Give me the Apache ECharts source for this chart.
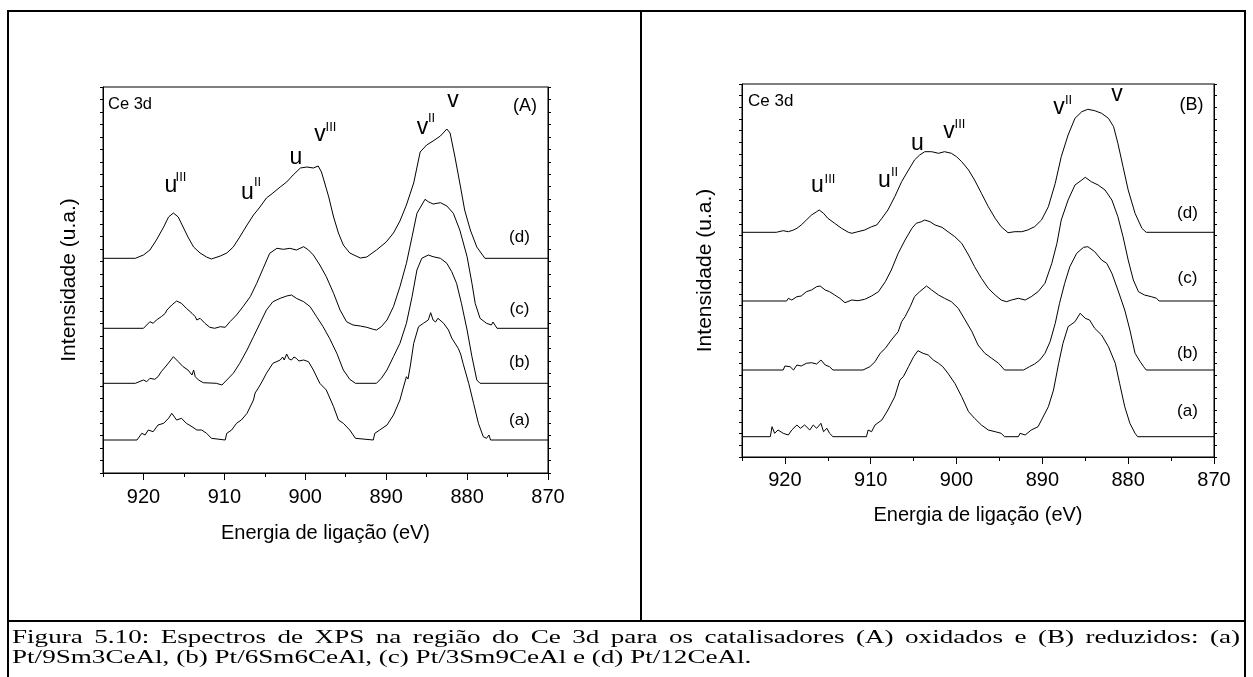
<!DOCTYPE html>
<html><head><meta charset="utf-8">
<script src="https://cdn.jsdelivr.net/npm/echarts/dist/echarts.min.js"></script>
<style>
html,body{margin:0;padding:0;background:#fff;}
#wrap{position:relative;width:1253px;height:677px;overflow:hidden;background:#fff;}
#chart{position:absolute;left:0;top:0;width:1253px;height:677px;}
.cap{position:absolute;left:12px;font-family:"Liberation Serif","Times New Roman",serif;font-size:19.5px;line-height:20px;color:#000;white-space:nowrap;transform-origin:0 0;}
</style></head><body>
<div id="wrap"><div id="chart"></div>
<div class="cap" id="cap1">Figura 5.10: Espectros de XPS na região do Ce 3d para os catalisadores (A) oxidados e (B) reduzidos: (a)</div>
<div class="cap" id="cap2">Pt/9Sm3CeAl, (b) Pt/6Sm6CeAl, (c) Pt/3Sm9CeAl e (d) Pt/12CeAl.</div>
</div>
<script>
// ---------- data: [binding energy (eV), intensity (a.u., offset stacked)] ----------
// Panel A (oxidized)
const specA_d = [[925,214.7],[921.0,214.7],[920.0,218],[919.2,223],[918.4,233],[917.5,246],[916.9,256],[916.3,260],[915.7,256],[915.1,246],[914.5,236],[913.8,226],[913.0,220],[912.2,216],[911.6,214],[910.5,217],[909.7,220],[908.9,226],[908.1,236],[907.2,248],[906.4,258],[905.6,266],[904.8,275],[904.0,280],[903.1,286],[902.3,291],[901.5,298],[900.6,305],[899.8,306],[899.0,305],[898.4,307],[898.0,301],[897.6,290],[897.1,276],[896.5,256],[895.9,240],[895.3,228],[894.5,220],[893.2,215],[892.4,216],[891.2,223],[890.0,231],[889.1,240],[888.3,252],[887.5,268],[886.6,290],[885.8,321],[885.0,328],[884.2,332],[883.3,337],[882.5,344],[882.1,340],[881.5,316],[880.9,290],[880.3,263],[879.6,243],[878.8,226],[877.8,214.7],[870,214.7]];
const specA_c = [[925,144.7],[920.0,144.7],[919.2,151.3],[918.8,149.7],[918.4,153],[917.8,156.3],[917.3,159.7],[917.1,163],[916.5,168],[915.9,172],[915.3,169.7],[914.7,164.7],[914.0,159.7],[913.6,156.3],[913.4,153],[913.0,154.7],[912.4,149.7],[911.8,145.7],[911.2,144.7],[910.5,146.3],[909.9,145.7],[909.3,151.3],[908.5,158],[907.7,166.3],[906.8,176.3],[906.0,189.7],[905.2,204.7],[904.4,219.7],[903.5,224.7],[902.7,223.7],[901.9,224.7],[901.1,223],[900.2,226.3],[899.6,223],[899.0,218],[898.2,208],[897.4,196.3],[896.5,179.7],[895.7,163],[894.9,151.3],[894.1,148],[893.2,147],[892.4,145.7],[891.6,143.7],[891.2,143],[890.6,146.3],[889.9,153],[889.1,166.3],[888.3,186.3],[887.5,209.7],[886.8,236.3],[886.2,259.7],[885.6,268],[885.2,273.7],[884.8,271.3],[884.2,269],[883.3,270.3],[882.5,267],[881.7,259.7],[880.9,243],[880.0,216.3],[879.4,189.7],[879.0,169.7],[878.4,154.7],[877.6,149.7],[877.0,148],[876.8,151],[876.3,144.7],[870,144.7]];
const specA_b = [[925,89.7],[921.0,89.7],[920.8,91.3],[920.0,93],[919.6,91.3],[919.2,94.7],[918.6,93.7],[918.2,96.3],[917.8,101.3],[917.1,108],[916.3,116.3],[915.7,111.3],[915.1,106.3],[914.5,103],[914.0,98],[913.8,103],[913.6,96.3],[913.2,93],[912.6,90.3],[911.0,89.7],[910.3,88],[909.7,93],[908.9,99.7],[908.1,109.7],[907.2,123],[906.4,136.3],[905.6,149.7],[904.8,163],[904.0,171.3],[903.1,174.7],[902.3,177],[901.7,178],[901.1,174.7],[900.2,171.3],[899.4,166.3],[898.6,156.3],[897.8,146.3],[897.0,134.7],[896.1,119.7],[895.3,103],[894.5,93.7],[893.8,89.7],[891.2,89.7],[890.6,94.7],[889.9,103],[889.1,116.3],[888.3,129.7],[887.5,149.7],[886.8,176.3],[886.2,203],[885.6,214.7],[884.8,218],[884.2,216.3],[883.3,214.7],[882.5,209.7],[881.9,201.3],[881.3,189.7],[880.7,169.7],[880.0,143],[879.4,116.3],[878.8,93],[878.4,89.7],[870,89.7]];
const specA_a = [[925,33],[920.8,33],[920.6,34.7],[920.2,39.7],[919.8,38],[919.4,43],[918.8,41.3],[918.2,48],[917.5,49.7],[916.9,54.7],[916.5,59.7],[915.9,53],[915.3,54.7],[914.7,49.7],[914.0,46.3],[913.4,43],[912.8,43],[912.2,39.7],[911.6,34.7],[911.4,33],[909.9,33],[909.7,39.7],[909.1,43],[908.5,49.7],[907.9,53],[907.2,59.7],[906.4,73],[906.2,80],[906.0,78],[905.8,85],[905.6,84],[905.3,92],[905.1,91],[904.8,99.7],[904.0,109.7],[903.1,113],[902.8,116],[902.6,113],[902.3,119],[902.0,114],[901.7,113],[901.4,116],[901.1,114.7],[900.8,112],[900.2,113],[899.6,111.3],[899.0,103],[898.2,89.7],[897.4,83],[896.5,66.3],[895.9,53],[895.3,49.7],[894.5,43],[893.8,34.7],[893.6,33],[891.6,33],[891.4,39.7],[890.8,43],[889.9,48],[889.1,58],[888.3,73],[888.0,82],[887.8,80],[887.5,96.3],[887.3,94],[887.0,108],[886.8,107],[886.6,129.7],[886.0,146.3],[885.4,149.7],[884.8,153],[884.5,160.3],[884.2,153],[883.9,151],[883.6,154.7],[882.9,149.7],[882.3,143],[881.9,135],[881.7,134.7],[881.1,124.7],[880.8,119],[880.5,109.7],[879.8,89.7],[879.2,69.7],[878.6,49.7],[878.0,36.3],[877.6,34.7],[877.3,38],[877.1,33],[870,33]];
// Panel B (reduced)
const specB_d = [[925,224.7],[921.0,224.7],[920.8,225.3],[920.2,226.3],[919.6,225.3],[919.0,227],[918.6,228.7],[918.1,232],[917.5,237],[916.9,242],[916.3,245.3],[916.0,247],[915.5,243.7],[915.0,238.7],[914.2,233.7],[913.4,228.7],[912.6,224.7],[912.2,223.7],[911.5,225.3],[910.7,227],[909.9,230.3],[909.3,232],[908.7,238.7],[908.0,247],[907.2,260.3],[906.4,275.3],[905.6,287],[904.9,297],[904.3,302],[903.7,305.3],[902.9,305.3],[902.1,303.7],[901.4,305.3],[900.6,303.7],[900.0,300.3],[899.4,295.3],[898.6,287],[897.9,277],[897.1,263.7],[896.3,250.3],[895.5,238.7],[894.8,230.3],[894.0,224.3],[893.2,225.3],[892.4,225.3],[891.7,227],[890.9,230.3],[890.1,237],[889.3,250.3],[888.5,273.7],[887.8,300.3],[887.0,322],[886.2,338.7],[885.4,345.3],[884.7,347.7],[883.9,346.3],[883.1,343.7],[882.3,338.7],[881.7,330.3],[881.2,313.7],[880.6,290.3],[880.0,267],[879.2,243.7],[878.4,228.7],[877.9,224.7],[870,224.7]];
const specB_c = [[925,156],[919.8,156],[919.6,158.7],[919.2,157],[918.6,160.3],[918.1,161],[917.5,165.3],[916.9,167],[916.3,170.3],[915.9,171],[915.3,167],[914.8,165.3],[914.2,162],[913.6,158.7],[913.0,154.3],[912.2,157],[911.5,156.3],[910.7,157.7],[909.9,161],[909.1,165.3],[908.3,175.3],[907.6,187],[906.8,203.7],[906.0,217],[905.2,228.7],[904.7,233.7],[904.1,235.3],[903.7,237],[903.1,235.3],[902.5,232],[901.7,229.7],[901.0,225.3],[900.2,220.3],[899.4,213.7],[898.6,202],[897.9,190.3],[897.1,178.7],[896.3,168.7],[895.5,162],[894.8,157],[894.2,155.3],[893.6,157],[892.8,158.7],[892.0,157],[891.3,160.3],[890.5,165.3],[889.7,173.7],[888.9,193.7],[888.3,213.7],[887.8,237],[887.0,257],[886.2,272],[885.4,277],[885.0,279.7],[884.3,275.3],[883.5,272],[882.7,267],[881.9,257],[881.2,240.3],[880.6,220.3],[880.0,197],[879.4,177],[878.8,165.3],[878.1,162],[877.3,160.3],[876.7,158.7],[876.4,156],[870,156]];
const specB_b = [[925,87],[920.2,87],[920.0,91],[919.4,90.3],[919.0,87],[918.6,92],[918.1,91],[917.5,93.7],[916.9,94.3],[916.3,93],[915.8,97],[915.3,92],[914.8,90.3],[914.4,87],[910.9,87],[910.7,88.7],[910.1,90.3],[909.5,95.3],[908.9,103.7],[908.3,108.7],[907.6,117],[906.8,125.3],[906.4,135.3],[906.0,140.3],[905.4,150.3],[904.9,160.3],[904.3,165.3],[903.5,171],[902.9,167],[902.1,162],[901.4,158.7],[900.6,155.3],[899.8,148.7],[899.0,137],[898.2,125.3],[897.5,112],[896.7,103.7],[895.9,98.7],[895.1,93.7],[894.4,87],[892.2,87],[892.0,85.3],[891.5,90.3],[890.9,93],[890.3,97],[889.7,103.7],[889.1,115.3],[888.5,133.7],[888.0,153.7],[887.4,173.7],[886.8,190.3],[886.0,203.7],[885.2,209.7],[884.7,210.3],[883.9,205.3],[883.1,197],[882.5,193.7],[881.9,183.7],[881.2,167],[880.4,147],[879.8,127],[879.2,103.7],[878.6,95.3],[878.2,90.3],[877.9,87],[870,87]];
const specB_a = [[925,20.3],[921.7,20.3],[921.5,30.3],[921.2,23.7],[920.8,27],[920.2,23.7],[919.6,22],[919.2,27],[918.6,32],[918.2,28.7],[917.7,32],[917.1,27],[916.7,32],[916.3,28.7],[915.8,33.7],[915.5,25.3],[915.1,28.7],[914.8,23.7],[914.4,20.3],[910.5,20.3],[910.3,27],[909.9,25.3],[909.5,32],[908.7,37],[908.0,47],[907.2,60.3],[906.6,77],[906.2,80.3],[905.6,90.3],[905.0,100.3],[904.5,106.3],[903.9,103.7],[903.3,102],[902.7,97],[902.1,93.7],[901.6,90.3],[901.0,83.7],[900.2,73.7],[899.4,60.3],[898.6,45.3],[897.9,38.7],[897.1,32],[896.3,27],[895.5,25.3],[894.8,23.7],[894.4,20.3],[892.8,20.3],[892.6,23.7],[892.0,22],[891.3,27],[890.5,30.3],[890.1,37],[889.3,50.3],[888.7,67],[888.1,93.7],[887.6,113.7],[887.0,130.3],[886.2,135.3],[885.6,143.7],[885.0,138.7],[884.5,137],[883.9,128.7],[883.1,122],[882.3,110.3],[881.5,93.7],[881.0,73.7],[880.4,50.3],[879.8,33.7],[879.2,23.7],[878.9,20.3],[870,20.3]];

const energyRange = [870, 925];
const sampleLabels = ['(a)', '(b)', '(c)', '(d)'];
const panelLabels = ['(A)', '(B)'];
const xTitle = 'Energia de ligação (eV)';
const yTitle = 'Intensidade (u.a.)';

// ---------- chart ----------
const SANS = '"Liberation Sans", Arial, Helvetica, sans-serif';
const chart = echarts.init(document.getElementById('chart'), null, {renderer: 'canvas'});

function xAxes(gi, gap, margin, fs) {
  return [{
    gridIndex: gi, type: 'value', position: 'bottom', min: energyRange[0], max: energyRange[1], inverse: true, interval: 10,
    axisLine: {show: true, onZero: false, lineStyle: {color: '#000', width: 1}},
    axisTick: {show: true, inside: false, length: 7, lineStyle: {color: '#000', width: 1}},
    axisLabel: {show: true, color: '#000', fontSize: fs, fontFamily: SANS, margin: margin, showMaxLabel: false},
    splitLine: {show: false},
    name: xTitle, nameLocation: 'middle', nameGap: gap,
    nameTextStyle: {color: '#000', fontSize: fs, fontFamily: SANS}
  }, {
    gridIndex: gi, type: 'value', position: 'bottom', min: energyRange[0], max: energyRange[1], inverse: true, interval: 5,
    axisLine: {show: false, onZero: false},
    axisTick: {show: true, inside: false, length: 4, lineStyle: {color: '#000', width: 1}},
    axisLabel: {show: false}, splitLine: {show: false}
  }];
}
function yAxes(gi, max, step, gap, fs) {
  const common = () => ({
    gridIndex: gi, type: 'value', min: 0, max: max, interval: step,
    axisLine: {show: true, onZero: false, lineStyle: {color: '#000', width: 1}},
    axisTick: {show: true, inside: false, length: 3, lineStyle: {color: '#000', width: 1}},
    axisLabel: {show: false}, splitLine: {show: false}
  });
  return [Object.assign(common(), {position: 'left', name: yTitle, nameLocation: 'middle', nameGap: gap, nameRotate: 90,
            nameTextStyle: {color: '#000', fontSize: fs, fontFamily: SANS}}),
          Object.assign(common(), {position: 'right'})];
}
function spec(data, xi, yi) {
  return {type: 'line', xAxisIndex: xi, yAxisIndex: yi, data: data, showSymbol: false, symbol: 'none',
          lineStyle: {color: '#000', width: 1}, silent: true, animation: false, z: 3};
}
function T(x, y, s, size, align) {
  return {type: 'text', x: x, y: y, silent: true, z: 10,
          style: {text: s, fill: '#000', font: size + 'px ' + SANS, align: align || 'center', verticalAlign: 'middle'}};
}
function L(x1, y1, x2, y2, w) {
  return {type: 'line', silent: true, z: 10, shape: {x1: x1, y1: y1, x2: x2, y2: y2}, style: {stroke: '#000', lineWidth: w}};
}

const peak = 23, sup = 13, cap = 17;
const graphics = [
  // outer frame
  L(7, 11, 1246, 11, 2), L(8, 10, 8, 677, 2), L(1245, 10, 1245, 677, 2),
  L(641, 11, 641, 621, 2), L(7, 621, 1246, 621, 2),
  // panel A texts
  T(108, 104, 'Ce 3d', 16.5, 'left'), T(525, 106, panelLabels[0], 18),
  T(171, 186, 'u', peak), T(181, 177, 'III', sup),
  T(247.5, 193, 'u', peak), T(257.5, 182, 'II', sup),
  T(296, 157.5, 'u', peak),
  T(320, 135, 'v', peak), T(331, 127, 'III', sup),
  T(422.5, 128, 'v', peak), T(431.5, 118, 'II', sup),
  T(453, 101, 'v', peak),
  T(519.5, 237.5, sampleLabels[3], cap), T(519.5, 309.5, sampleLabels[2], cap),
  T(519.5, 362.5, sampleLabels[1], cap), T(519.5, 420.5, sampleLabels[0], cap),
  // panel B texts
  T(748, 101.5, 'Ce 3d', 17, 'left'), T(1191.5, 105, panelLabels[1], 18),
  T(817.5, 186, 'u', peak), T(830, 179, 'III', sup),
  T(884.5, 181, 'u', peak), T(894.5, 172, 'II', sup),
  T(917.5, 143.5, 'u', peak),
  T(949, 132, 'v', peak), T(960, 124, 'III', sup),
  T(1059, 108, 'v', peak), T(1068.5, 100, 'II', sup),
  T(1117, 94.5, 'v', peak),
  T(1187.5, 213.5, sampleLabels[3], cap), T(1187.5, 278.5, sampleLabels[2], cap),
  T(1187.5, 353.5, sampleLabels[1], cap), T(1187.5, 411.5, sampleLabels[0], cap)
];

chart.setOption({
  animation: false,
  backgroundColor: '#fff',
  grid: [
    {left: 103, top: 87, width: 445, height: 386, show: true, borderColor: '#000', borderWidth: 1, backgroundColor: 'transparent', containLabel: false},
    {left: 742, top: 84, width: 472, height: 373, show: true, borderColor: '#000', borderWidth: 1, backgroundColor: 'transparent', containLabel: false}
  ],
  xAxis: [].concat(xAxes(0, 50, 14, 20), xAxes(1, 48, 13, 20)),
  yAxis: [].concat(yAxes(0, 386, 12.45, 23, 21), yAxes(1, 373, 11.66, 26, 21)),
  series: [
    spec(specA_a, 0, 0), spec(specA_b, 0, 0), spec(specA_c, 0, 0), spec(specA_d, 0, 0),
    spec(specB_a, 2, 2), spec(specB_b, 2, 2), spec(specB_c, 2, 2), spec(specB_d, 2, 2)
  ],
  graphic: graphics
});

// caption: horizontally stretched serif text, first line justified
(function () {
  const target = 1228, s = 1.39;
  const c1 = document.getElementById('cap1'), c2 = document.getElementById('cap2');
  c1.style.top = '627px'; c2.style.top = '647px';
  const w1 = c1.getBoundingClientRect().width;
  const n = c1.textContent.split(' ').length - 1;
  const extra = (target / s - w1) / n;
  if (extra > 0) { c1.style.wordSpacing = extra + 'px'; c1.style.transform = 'scaleX(' + s + ')'; }
  else { c1.style.transform = 'scaleX(' + (target / w1) + ')'; }
  c2.style.transform = 'scaleX(' + s + ')';
})();
</script>
</body></html>
